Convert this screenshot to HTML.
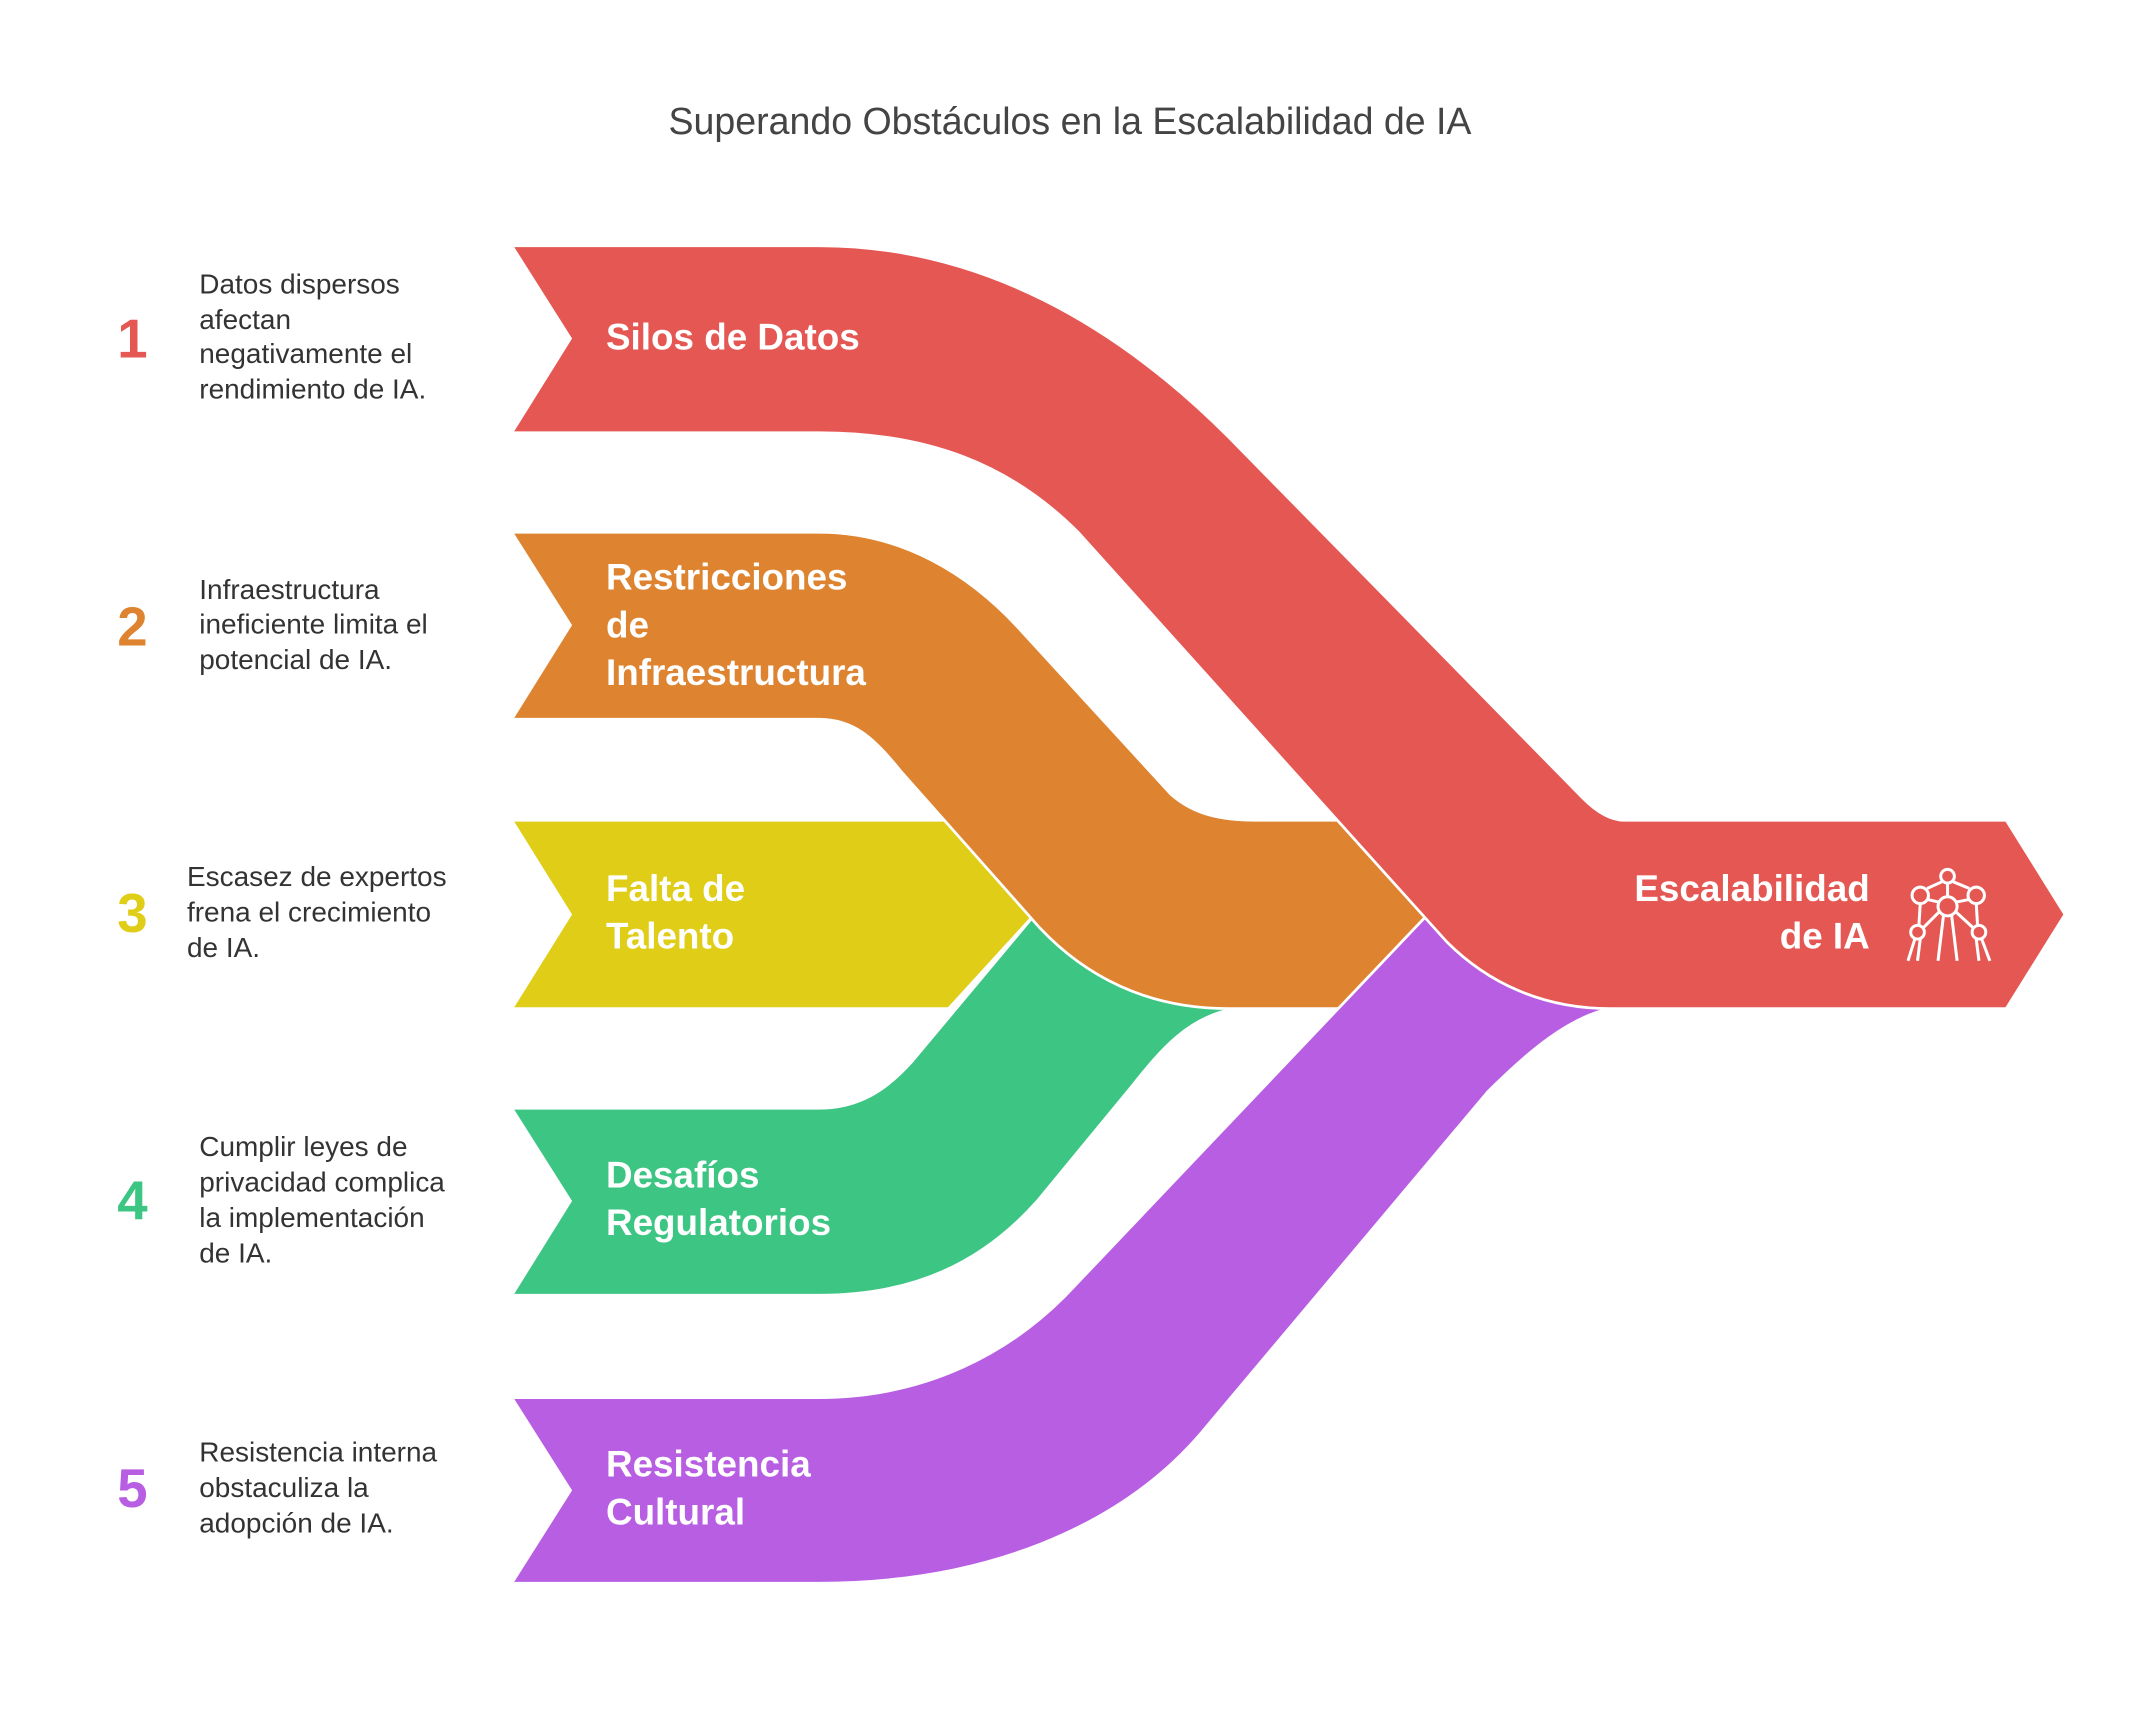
<!DOCTYPE html>
<html><head><meta charset="utf-8"><style>
html,body{margin:0;padding:0;background:#fff;}
svg{display:block;}
text{font-family:"Liberation Sans",sans-serif;}
.l{fill:#fff;font-weight:bold;font-size:27px;}
.d{fill:#333;font-size:20.5px;}
.n{font-weight:bold;font-size:40px;}
</style></head><body>
<svg width="2140" height="1732" viewBox="0 0 1568 1269" xmlns="http://www.w3.org/2000/svg">
<rect width="1568" height="1269" fill="#fff"/>
<text x="784" y="98" text-anchor="middle" font-size="27.5" fill="#444">Superando Obstáculos en la Escalabilidad de IA</text>

<path d="M375,601 L695,601 L758,670 L695,739 L375,739 L418,670 Z" fill="#dfcd17" stroke="#fff" stroke-width="2"/>
<path d="M375,812 L600,812 C630,812 650,798 668,778 L765,662 L905,739 C870,745 850,770 830,795 L760,880 C720,925 670,949 600,949 L375,949 L418,880 Z" fill="#3dc584" stroke="#fff" stroke-width="2"/>
<path d="M375,390 L600,390 C660,390 710,420 748,462 L858,582 C875,597 895,601 920,601 L1005,601 L1048,670 L1005,739 L900,739 C840,739 795,715 762,680 L660,565 C640,540 625,527 600,527 L375,527 L418,458 Z" fill="#de8431" stroke="#fff" stroke-width="2"/>
<path d="M1050,662 L1180,739 C1150,745 1120,770 1090,800 L880,1050 C820,1120 720,1160 600,1160 L375,1160 L418,1092 L375,1024 L600,1024 C680,1024 740,990 780,950 L1048,668 Z" fill="#b75ee2" stroke="#fff" stroke-width="2"/>
<path d="M375,180 L600,180 C720,180 820,240 900,320 L1160,585 C1170,595 1180,601 1190,601 L1470,601 L1513,670 L1470,739 L1180,739 C1130,739 1090,720 1060,690 L790,390 C740,340 680,317 600,317 L375,317 L418,248 Z" fill="#e55753" stroke="#fff" stroke-width="2"/>

<text class="l" x="444" y="256">Silos de Datos</text>
<text class="l" x="444" y="432">Restricciones</text>
<text class="l" x="444" y="467">de</text>
<text class="l" x="444" y="502">Infraestructura</text>
<text class="l" x="444" y="660">Falta de</text>
<text class="l" x="444" y="695">Talento</text>
<text class="l" x="444" y="870">Desafíos</text>
<text class="l" x="444" y="905">Regulatorios</text>
<text class="l" x="444" y="1082">Resistencia</text>
<text class="l" x="444" y="1117">Cultural</text>
<text class="l" x="1370" y="660" text-anchor="end">Escalabilidad</text>
<text class="l" x="1370" y="695" text-anchor="end">de IA</text>

<g stroke="#fff" stroke-width="2.2" fill="none">
<circle cx="1427" cy="642" r="5"/>
<circle cx="1407" cy="656" r="6"/>
<circle cx="1448" cy="656" r="6"/>
<circle cx="1427" cy="664" r="7"/>
<circle cx="1405" cy="683" r="5"/>
<circle cx="1450" cy="683" r="5"/>
<path d="M1423,646 L1412,651 M1431,646 L1443,651 M1427,647 L1427,657 M1412,659 L1421,661 M1443,659 L1433,661 M1407,662 L1406,678 M1448,662 L1449,678 M1409,680 L1421,668 M1446,680 L1433,668 M1403,688 L1398,704 M1407,688 L1405,704 M1448,688 L1450,704 M1452,688 L1458,704 M1424,671 L1420,704 M1430,671 L1434,704"/>
</g>

<text class="n" x="97" y="262" text-anchor="middle" fill="#e55753">1</text>
<text class="n" x="97" y="473" text-anchor="middle" fill="#de8431">2</text>
<text class="n" x="97" y="683" text-anchor="middle" fill="#dfcd17">3</text>
<text class="n" x="97" y="893" text-anchor="middle" fill="#3dc584">4</text>
<text class="n" x="97" y="1104" text-anchor="middle" fill="#b75ee2">5</text>

<text class="d" x="146" y="215">Datos dispersos</text>
<text class="d" x="146" y="241">afectan</text>
<text class="d" x="146" y="266">negativamente el</text>
<text class="d" x="146" y="292">rendimiento de IA.</text>
<text class="d" x="146" y="439">Infraestructura</text>
<text class="d" x="146" y="464">ineficiente limita el</text>
<text class="d" x="146" y="490">potencial de IA.</text>
<text class="d" x="137" y="649">Escasez de expertos</text>
<text class="d" x="137" y="675">frena el crecimiento</text>
<text class="d" x="137" y="701">de IA.</text>
<text class="d" x="146" y="847">Cumplir leyes de</text>
<text class="d" x="146" y="873">privacidad complica</text>
<text class="d" x="146" y="899">la implementación</text>
<text class="d" x="146" y="925">de IA.</text>
<text class="d" x="146" y="1071">Resistencia interna</text>
<text class="d" x="146" y="1097">obstaculiza la</text>
<text class="d" x="146" y="1123">adopción de IA.</text>
</svg>
</body></html>
